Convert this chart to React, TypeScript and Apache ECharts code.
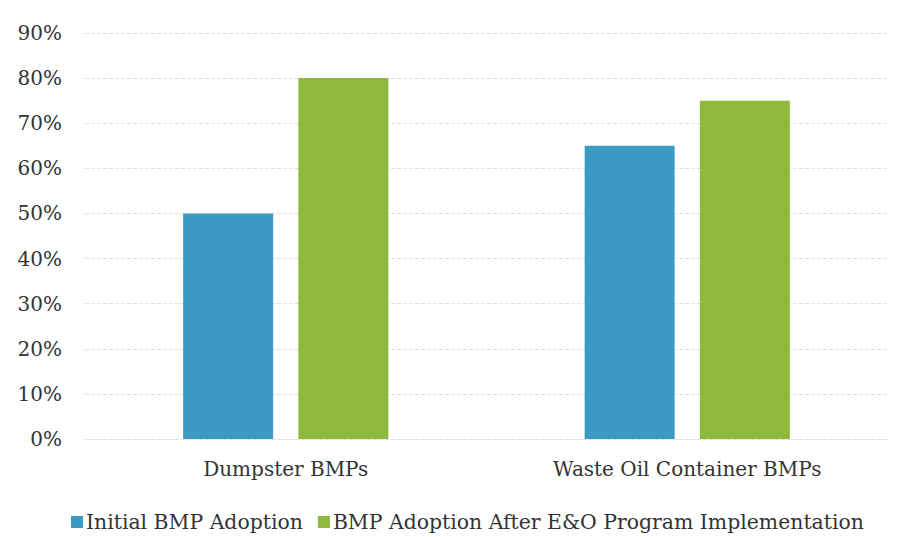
import React, { useEffect, useRef } from "react";
import * as echarts from "echarts";

const categories = ["Dumpster BMPs", "Waste Oil Container BMPs"];
const seriesNames = ["Initial BMP Adoption", "BMP Adoption After E&O Program Implementation"];
const initialValues = [50, 65];
const afterValues = [80, 75];
const colors = ["#3b9bc4", "#8fb93c"];

export default function App() {
  const ref = useRef<HTMLDivElement>(null);
  useEffect(() => {
    if (!ref.current) return;
    const chart = echarts.init(ref.current, undefined, { renderer: "svg" });
    const font = "DejaVu Serif";
    chart.setOption({
      animation: false,
      backgroundColor: "#ffffff",
      textStyle: { fontFamily: font },
      grid: { left: 85, right: 13, top: 33, bottom: 98, containLabel: false },
      legend: {
        data: seriesNames,
        left: 66,
        top: 507,
        icon: "rect",
        itemWidth: 12,
        itemHeight: 12,
        itemGap: 15,
        textStyle: { fontFamily: font, fontSize: 20.4, color: "#333333", padding: [0, 0, 0, -2] },
      },
      xAxis: {
        type: "category",
        data: categories,
        axisLine: { show: true, lineStyle: { color: "#e0e0e0", type: "dashed", width: 1 } },
        axisTick: { show: false },
        axisLabel: { fontFamily: font, fontSize: 20, color: "#333333", margin: 20 },
      },
      yAxis: {
        type: "value",
        min: 0,
        max: 90,
        interval: 10,
        axisLine: { show: false },
        axisTick: { show: false },
        axisLabel: { formatter: "{value}%", fontFamily: font, fontSize: 20, color: "#333333", margin: 23 },
        splitLine: { lineStyle: { color: "#e0e0e0", type: "dashed", width: 1 } },
      },
      series: [
        {
          name: seriesNames[0],
          type: "bar",
          data: initialValues,
          barWidth: 90,
          barGap: "28%",
          itemStyle: { color: colors[0] },
        },
        {
          name: seriesNames[1],
          type: "bar",
          data: afterValues,
          barWidth: 90,
          itemStyle: { color: colors[1] },
        },
      ],
    });
    return () => chart.dispose();
  }, []);
  return (
    <div
      ref={ref}
      style={{ position: "fixed", left: 0, top: 0, width: 901, height: 537, background: "#fff" }}
    />
  );
}
